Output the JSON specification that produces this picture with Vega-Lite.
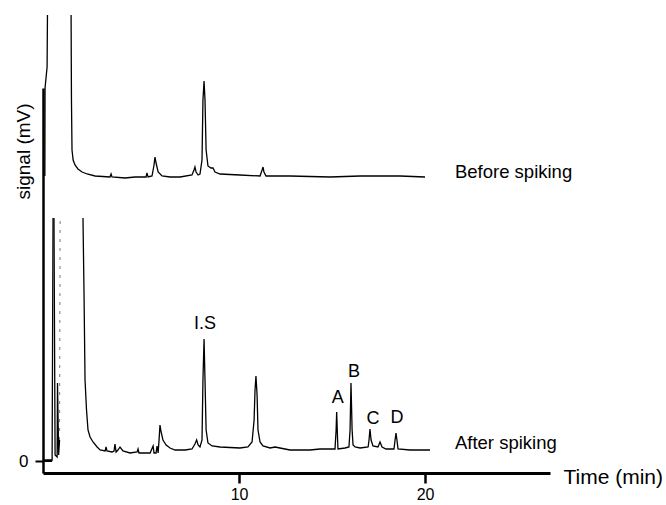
{
  "$schema": "https://vega.github.io/schema/vega-lite/v6.json",
  "width": 507,
  "height": 385,
  "autosize": {"type": "none"},
  "padding": {"left": 43, "top": 88, "right": 116, "bottom": 32},
  "background": "white",
  "config": {"view": {"stroke": null}, "font": "Liberation Sans"},
  "datasets": {
    "traces": [
      {"seg": "b1", "t": -0.44, "s": 285}, {"seg": "b1", "t": -0.43, "s": 373}, {"seg": "b1", "t": -0.32, "s": 394}, {"seg": "b1", "t": -0.30, "s": 446},
      {"seg": "b2", "t": 0.97, "s": 446}, {"seg": "b2", "t": 0.99, "s": 361}, {"seg": "b2", "t": 1.02, "s": 311}, {"seg": "b2", "t": 1.08, "s": 301},
      {"seg": "b2", "t": 1.18, "s": 296}, {"seg": "b2", "t": 1.34, "s": 292}, {"seg": "b2", "t": 1.56, "s": 289}, {"seg": "b2", "t": 1.83, "s": 287},
      {"seg": "b2", "t": 2.26, "s": 285}, {"seg": "b2", "t": 3.06, "s": 284}, {"seg": "b2", "t": 3.12, "s": 287}, {"seg": "b2", "t": 3.17, "s": 284},
      {"seg": "b2", "t": 3.87, "s": 283}, {"seg": "b2", "t": 4.41, "s": 284}, {"seg": "b2", "t": 5.0, "s": 284}, {"seg": "b2", "t": 5.05, "s": 288},
      {"seg": "b2", "t": 5.11, "s": 284}, {"seg": "b2", "t": 5.32, "s": 285}, {"seg": "b2", "t": 5.43, "s": 296}, {"seg": "b2", "t": 5.48, "s": 304},
      {"seg": "b2", "t": 5.54, "s": 298}, {"seg": "b2", "t": 5.65, "s": 289}, {"seg": "b2", "t": 5.86, "s": 285}, {"seg": "b2", "t": 6.29, "s": 284},
      {"seg": "b2", "t": 6.83, "s": 284}, {"seg": "b2", "t": 7.47, "s": 286}, {"seg": "b2", "t": 7.58, "s": 291}, {"seg": "b2", "t": 7.63, "s": 294},
      {"seg": "b2", "t": 7.69, "s": 289}, {"seg": "b2", "t": 7.8, "s": 286}, {"seg": "b2", "t": 7.9, "s": 287}, {"seg": "b2", "t": 8.01, "s": 301},
      {"seg": "b2", "t": 8.06, "s": 361}, {"seg": "b2", "t": 8.12, "s": 380}, {"seg": "b2", "t": 8.17, "s": 361}, {"seg": "b2", "t": 8.23, "s": 311},
      {"seg": "b2", "t": 8.33, "s": 295}, {"seg": "b2", "t": 8.49, "s": 293}, {"seg": "b2", "t": 8.6, "s": 293}, {"seg": "b2", "t": 8.71, "s": 289},
      {"seg": "b2", "t": 8.98, "s": 287}, {"seg": "b2", "t": 10.05, "s": 286}, {"seg": "b2", "t": 11.13, "s": 285}, {"seg": "b2", "t": 11.24, "s": 291},
      {"seg": "b2", "t": 11.29, "s": 294}, {"seg": "b2", "t": 11.34, "s": 289}, {"seg": "b2", "t": 11.45, "s": 285}, {"seg": "b2", "t": 12.74, "s": 285},
      {"seg": "b2", "t": 14.89, "s": 284}, {"seg": "b2", "t": 16.51, "s": 285}, {"seg": "b2", "t": 18.66, "s": 285}, {"seg": "b2", "t": 20.0, "s": 284},

      {"seg": "a1", "t": -0.48, "s": 1}, {"seg": "a1", "t": -0.05, "s": 1}, {"seg": "a1", "t": 0.0, "s": 243},
      {"seg": "a2", "t": 0.05, "s": 243}, {"seg": "a2", "t": 0.11, "s": 6}, {"seg": "a2", "t": 0.22, "s": 4}, {"seg": "a2", "t": 0.24, "s": 78},
      {"seg": "a2", "t": 0.3, "s": 6}, {"seg": "a2", "t": 0.35, "s": 21},
      {"seg": "a2f", "t": 0.35, "s": 21}, {"seg": "a2f", "t": 0.38, "s": 243},
      {"seg": "a3", "t": 1.61, "s": 243}, {"seg": "a3", "t": 1.67, "s": 161}, {"seg": "a3", "t": 1.72, "s": 81}, {"seg": "a3", "t": 1.8, "s": 51},
      {"seg": "a3", "t": 1.88, "s": 31}, {"seg": "a3", "t": 1.99, "s": 24}, {"seg": "a3", "t": 2.15, "s": 19}, {"seg": "a3", "t": 2.37, "s": 14},
      {"seg": "a3", "t": 2.53, "s": 11}, {"seg": "a3", "t": 2.8, "s": 10}, {"seg": "a3", "t": 2.85, "s": 14}, {"seg": "a3", "t": 2.9, "s": 10},
      {"seg": "a3", "t": 3.17, "s": 9}, {"seg": "a3", "t": 3.28, "s": 10}, {"seg": "a3", "t": 3.33, "s": 17}, {"seg": "a3", "t": 3.39, "s": 9},
      {"seg": "a3", "t": 3.49, "s": 11}, {"seg": "a3", "t": 3.6, "s": 14}, {"seg": "a3", "t": 3.76, "s": 10}, {"seg": "a3", "t": 4.14, "s": 8},
      {"seg": "a3", "t": 4.52, "s": 9}, {"seg": "a3", "t": 4.57, "s": 12}, {"seg": "a3", "t": 4.62, "s": 8}, {"seg": "a3", "t": 5.22, "s": 8},
      {"seg": "a3", "t": 5.38, "s": 15}, {"seg": "a3", "t": 5.43, "s": 8}, {"seg": "a3", "t": 5.54, "s": 8}, {"seg": "a3", "t": 5.59, "s": 15},
      {"seg": "a3", "t": 5.65, "s": 8}, {"seg": "a3", "t": 5.7, "s": 21}, {"seg": "a3", "t": 5.75, "s": 36}, {"seg": "a3", "t": 5.81, "s": 29},
      {"seg": "a3", "t": 5.91, "s": 21}, {"seg": "a3", "t": 6.08, "s": 16}, {"seg": "a3", "t": 6.29, "s": 13}, {"seg": "a3", "t": 6.56, "s": 11},
      {"seg": "a3", "t": 7.1, "s": 11}, {"seg": "a3", "t": 7.47, "s": 12}, {"seg": "a3", "t": 7.63, "s": 17}, {"seg": "a3", "t": 7.72, "s": 21},
      {"seg": "a3", "t": 7.8, "s": 16}, {"seg": "a3", "t": 7.9, "s": 14}, {"seg": "a3", "t": 8.01, "s": 21}, {"seg": "a3", "t": 8.06, "s": 81},
      {"seg": "a3", "t": 8.12, "s": 122}, {"seg": "a3", "t": 8.17, "s": 81}, {"seg": "a3", "t": 8.23, "s": 31}, {"seg": "a3", "t": 8.33, "s": 18},
      {"seg": "a3", "t": 8.55, "s": 15}, {"seg": "a3", "t": 8.98, "s": 14}, {"seg": "a3", "t": 10.05, "s": 13}, {"seg": "a3", "t": 10.48, "s": 14},
      {"seg": "a3", "t": 10.7, "s": 19}, {"seg": "a3", "t": 10.81, "s": 41}, {"seg": "a3", "t": 10.86, "s": 71}, {"seg": "a3", "t": 10.91, "s": 85},
      {"seg": "a3", "t": 10.97, "s": 66}, {"seg": "a3", "t": 11.02, "s": 31}, {"seg": "a3", "t": 11.13, "s": 19}, {"seg": "a3", "t": 11.29, "s": 15},
      {"seg": "a3", "t": 11.67, "s": 13}, {"seg": "a3", "t": 11.94, "s": 14}, {"seg": "a3", "t": 12.2, "s": 13}, {"seg": "a3", "t": 12.74, "s": 11},
      {"seg": "a3", "t": 13.82, "s": 11}, {"seg": "a3", "t": 14.35, "s": 12}, {"seg": "a3", "t": 15.16, "s": 12}, {"seg": "a3", "t": 15.22, "s": 31},
      {"seg": "a3", "t": 15.25, "s": 49}, {"seg": "a3", "t": 15.3, "s": 21}, {"seg": "a3", "t": 15.32, "s": 12}, {"seg": "a3", "t": 15.7, "s": 13},
      {"seg": "a3", "t": 15.91, "s": 14}, {"seg": "a3", "t": 15.97, "s": 31}, {"seg": "a3", "t": 16.02, "s": 78}, {"seg": "a3", "t": 16.08, "s": 31},
      {"seg": "a3", "t": 16.13, "s": 16}, {"seg": "a3", "t": 16.24, "s": 14}, {"seg": "a3", "t": 16.51, "s": 13}, {"seg": "a3", "t": 16.94, "s": 14},
      {"seg": "a3", "t": 16.99, "s": 21}, {"seg": "a3", "t": 17.04, "s": 32}, {"seg": "a3", "t": 17.1, "s": 21}, {"seg": "a3", "t": 17.2, "s": 15},
      {"seg": "a3", "t": 17.47, "s": 14}, {"seg": "a3", "t": 17.58, "s": 19}, {"seg": "a3", "t": 17.69, "s": 14}, {"seg": "a3", "t": 17.9, "s": 12},
      {"seg": "a3", "t": 18.33, "s": 12}, {"seg": "a3", "t": 18.39, "s": 21}, {"seg": "a3", "t": 18.44, "s": 28}, {"seg": "a3", "t": 18.49, "s": 21},
      {"seg": "a3", "t": 18.55, "s": 12}, {"seg": "a3", "t": 19.19, "s": 11}, {"seg": "a3", "t": 20.27, "s": 11}
    ],
    "zero": [
      {"t0": -0.54, "t1": -0.05, "s": 0}
    ],
    "peaks": [
      {"t": 8.17, "s": 137, "label": "I.S"},
      {"t": 15.31, "s": 63, "label": "A"},
      {"t": 16.18, "s": 89, "label": "B"},
      {"t": 17.2, "s": 42, "label": "C"},
      {"t": 18.49, "s": 43, "label": "D"}
    ],
    "names": [
      {"t": 21.61, "s": 289, "label": "Before spiking"},
      {"t": 21.61, "s": 18, "label": "After spiking"}
    ]
  },
  "layer": [
    {
      "data": {"name": "traces"},
      "transform": [{"filter": "datum.seg != 'a2f'"}],
      "mark": {"type": "line", "color": "black", "strokeWidth": 1.3, "clip": false},
      "encoding": {
        "x": {
          "field": "t", "type": "quantitative",
          "scale": {"domain": [-0.54, 26.72], "nice": false, "zero": false},
          "axis": {
            "values": [10, 20], "grid": false, "domainColor": "black", "domainWidth": 3,
            "tickColor": "black", "tickWidth": 2.5, "tickSize": 10,
            "labelFontSize": 16, "labelColor": "black", "labelPadding": 3, "labelFont": "Liberation Sans",
            "title": "Time (min)", "titleFontSize": 21, "titleFontWeight": "normal", "titleColor": "black",
            "titleFont": "Liberation Sans",
            "titleX": 520, "titleY": 4, "titleAlign": "left", "titleBaseline": "middle", "titleAnchor": null
          }
        },
        "y": {
          "field": "s", "type": "quantitative",
          "scale": {"domain": [-12, 373], "nice": false, "zero": false},
          "axis": {
            "values": [0], "grid": false, "domainColor": "black", "domainWidth": 2.5,
            "tickColor": "black", "tickWidth": 2, "tickSize": 8,
            "labelFontSize": 17, "labelColor": "black", "labelPadding": 7, "labelFont": "Liberation Sans",
            "title": "signal (mV)", "titleFontSize": 19, "titleFontWeight": "normal", "titleColor": "black",
            "titleFont": "Liberation Sans",
            "titleX": -20, "titleY": 63, "titleAngle": -90, "titleAlign": "center", "titleBaseline": "middle"
          }
        },
        "detail": {"field": "seg", "type": "nominal"}
      }
    },
    {
      "data": {"name": "traces"},
      "transform": [{"filter": "datum.seg == 'a2f'"}],
      "mark": {"type": "line", "color": "#777777", "strokeWidth": 1, "strokeDash": [3, 6], "clip": false},
      "encoding": {
        "x": {"field": "t", "type": "quantitative"},
        "y": {"field": "s", "type": "quantitative"}
      }
    },
    {
      "data": {"name": "zero"},
      "mark": {"type": "rule", "color": "black", "strokeWidth": 2},
      "encoding": {
        "x": {"field": "t0", "type": "quantitative"},
        "x2": {"field": "t1"},
        "y": {"field": "s", "type": "quantitative"}
      }
    },
    {
      "data": {"name": "peaks"},
      "mark": {"type": "text", "fontSize": 18, "color": "black", "align": "center", "baseline": "middle", "font": "Liberation Sans"},
      "encoding": {
        "x": {"field": "t", "type": "quantitative"},
        "y": {"field": "s", "type": "quantitative"},
        "text": {"field": "label", "type": "nominal"}
      }
    },
    {
      "data": {"name": "names"},
      "mark": {"type": "text", "fontSize": 18.5, "color": "black", "align": "left", "baseline": "middle", "font": "Liberation Sans", "clip": false},
      "encoding": {
        "x": {"field": "t", "type": "quantitative"},
        "y": {"field": "s", "type": "quantitative"},
        "text": {"field": "label", "type": "nominal"}
      }
    }
  ]
}
